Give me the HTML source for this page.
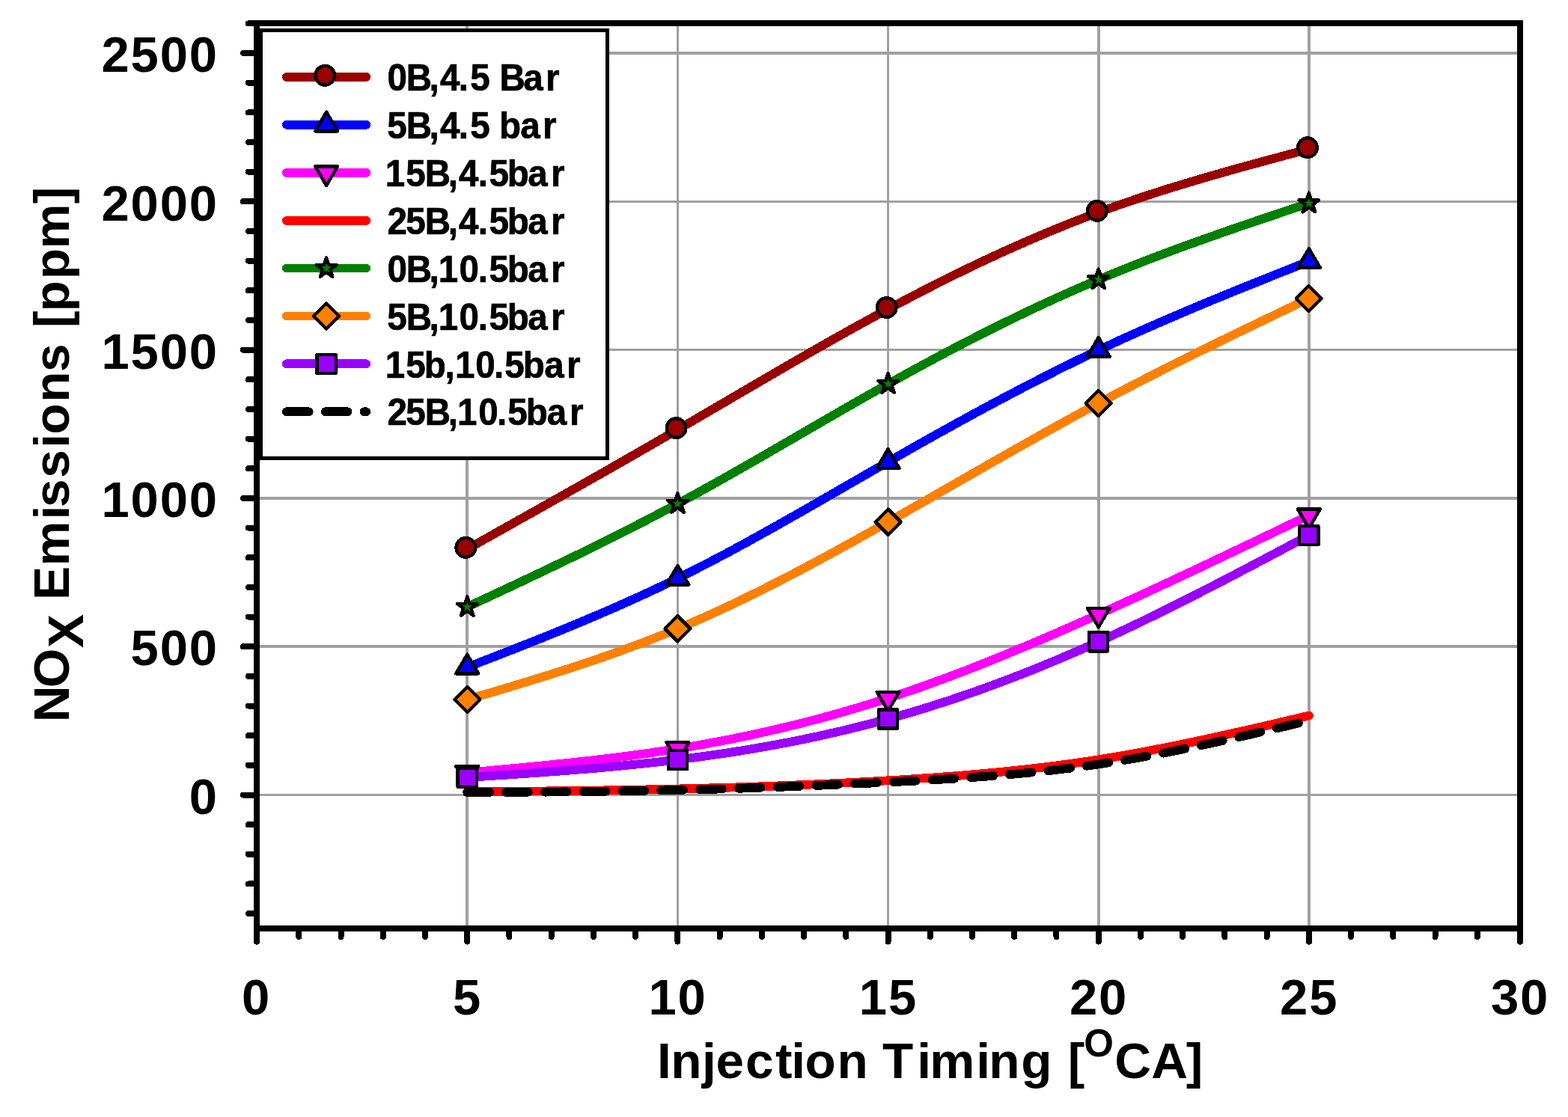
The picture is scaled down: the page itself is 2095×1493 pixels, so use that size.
<!DOCTYPE html>
<html lang="en"><head><meta charset="utf-8"><title>NOx Emissions vs Injection Timing</title>
<style>html,body{margin:0;padding:0;background:#fff}body{width:2095px;height:1493px;overflow:hidden}svg{display:block}</style>
</head><body>
<svg width="2095" height="1493" viewBox="0 0 2095 1493" shape-rendering="crispEdges">
<rect x="0" y="0" width="2095" height="1493" fill="#fff"/>
<path d="M624.25 30.95V1241.40M905.40 30.95V1241.40M1186.55 30.95V1241.40M1467.70 30.95V1241.40M1748.85 30.95V1241.40M343.10 1062.50H2031.00M343.10 864.20H2031.00M343.10 665.90H2031.00M343.10 467.60H2031.00M343.10 269.30H2031.00M343.10 71.00H2031.00" stroke="#a0a0a0" stroke-width="3.6" fill="none"/>
<path d="M624.2 733.9L631.3 730.0L638.3 726.0L645.3 722.1L652.4 718.1L659.4 714.2L666.4 710.2L673.5 706.3L680.5 702.3L687.5 698.4L694.5 694.4L701.6 690.5L708.6 686.5L715.6 682.6L722.7 678.6L729.7 674.7L736.7 670.7L743.7 666.7L750.8 662.8L757.8 658.8L764.8 654.8L771.9 650.8L778.9 646.8L785.9 642.9L792.9 638.9L800.0 634.9L807.0 630.9L814.0 626.9L821.1 622.8L828.1 618.8L835.1 614.8L842.1 610.8L849.2 606.8L856.2 602.7L863.2 598.7L870.3 594.6L877.3 590.6L884.3 586.5L891.3 582.5L898.4 578.4L905.4 574.3L912.4 570.2L919.5 566.1L926.5 562.0L933.5 557.9L940.5 553.8L947.6 549.7L954.6 545.6L961.6 541.5L968.7 537.4L975.7 533.2L982.7 529.1L989.7 525.0L996.8 520.9L1003.8 516.8L1010.8 512.7L1017.9 508.6L1024.9 504.5L1031.9 500.4L1038.9 496.3L1046.0 492.2L1053.0 488.1L1060.0 484.1L1067.1 480.0L1074.1 476.0L1081.1 471.9L1088.1 467.9L1095.2 463.9L1102.2 459.9L1109.2 455.9L1116.3 451.9L1123.3 448.0L1130.3 444.1L1137.3 440.1L1144.4 436.2L1151.4 432.3L1158.4 428.5L1165.5 424.6L1172.5 420.8L1179.5 417.0L1186.5 413.2L1193.6 409.4L1200.6 405.7L1207.6 402.0L1214.7 398.3L1221.7 394.6L1228.7 391.0L1235.8 387.4L1242.8 383.8L1249.8 380.2L1256.8 376.6L1263.9 373.1L1270.9 369.6L1277.9 366.2L1285.0 362.7L1292.0 359.3L1299.0 355.9L1306.0 352.6L1313.1 349.2L1320.1 345.9L1327.1 342.7L1334.2 339.4L1341.2 336.2L1348.2 333.0L1355.2 329.9L1362.3 326.8L1369.3 323.7L1376.3 320.6L1383.4 317.6L1390.4 314.6L1397.4 311.6L1404.4 308.7L1411.5 305.8L1418.5 303.0L1425.5 300.1L1432.6 297.3L1439.6 294.6L1446.6 291.9L1453.6 289.2L1460.7 286.5L1467.7 283.9L1474.9 281.3L1482.1 278.6L1489.3 276.1L1496.5 273.5L1503.7 271.0L1511.0 268.6L1518.2 266.1L1525.4 263.7L1532.6 261.3L1539.8 259.0L1547.0 256.7L1554.2 254.4L1561.4 252.1L1568.6 249.9L1575.8 247.7L1583.0 245.5L1590.3 243.3L1597.5 241.2L1604.7 239.0L1611.9 236.9L1619.1 234.8L1626.3 232.8L1633.5 230.7L1640.7 228.7L1647.9 226.6L1655.1 224.6L1662.3 222.6L1669.6 220.6L1676.8 218.7L1684.0 216.7L1691.2 214.8L1698.4 212.8L1705.6 210.9L1712.8 208.9L1720.0 207.0L1727.2 205.1L1734.4 203.1L1741.6 201.2L1748.8 199.3" fill="none" stroke="#990000" stroke-width="11.8" stroke-linecap="round" stroke-linejoin="round"/>
<circle cx="622.35" cy="731.80" r="12.8" fill="#990000" stroke="#000" stroke-width="4.4" stroke-linejoin="round"/>
<circle cx="903.50" cy="572.20" r="12.8" fill="#990000" stroke="#000" stroke-width="4.4" stroke-linejoin="round"/>
<circle cx="1184.65" cy="411.10" r="12.8" fill="#990000" stroke="#000" stroke-width="4.4" stroke-linejoin="round"/>
<circle cx="1465.80" cy="281.80" r="12.8" fill="#990000" stroke="#000" stroke-width="4.4" stroke-linejoin="round"/>
<circle cx="1746.95" cy="197.20" r="12.8" fill="#990000" stroke="#000" stroke-width="4.4" stroke-linejoin="round"/>
<path d="M624.2 891.8L631.3 889.1L638.3 886.4L645.3 883.6L652.4 880.9L659.4 878.2L666.4 875.4L673.5 872.7L680.5 869.9L687.5 867.2L694.5 864.4L701.6 861.6L708.6 858.9L715.6 856.1L722.7 853.3L729.7 850.4L736.7 847.6L743.7 844.8L750.8 841.9L757.8 839.0L764.8 836.1L771.9 833.2L778.9 830.3L785.9 827.3L792.9 824.3L800.0 821.3L807.0 818.3L814.0 815.3L821.1 812.2L828.1 809.1L835.1 806.0L842.1 802.8L849.2 799.6L856.2 796.4L863.2 793.2L870.3 789.9L877.3 786.6L884.3 783.3L891.3 779.9L898.4 776.5L905.4 773.0L912.4 769.6L919.5 766.1L926.5 762.5L933.5 758.9L940.5 755.3L947.6 751.7L954.6 748.0L961.6 744.3L968.7 740.6L975.7 736.8L982.7 733.0L989.7 729.2L996.8 725.4L1003.8 721.5L1010.8 717.6L1017.9 713.7L1024.9 709.8L1031.9 705.9L1038.9 702.0L1046.0 698.0L1053.0 694.0L1060.0 690.0L1067.1 686.0L1074.1 682.0L1081.1 678.0L1088.1 674.0L1095.2 669.9L1102.2 665.9L1109.2 661.8L1116.3 657.8L1123.3 653.7L1130.3 649.7L1137.3 645.6L1144.4 641.6L1151.4 637.5L1158.4 633.5L1165.5 629.4L1172.5 625.4L1179.5 621.3L1186.5 617.3L1193.6 613.3L1200.6 609.3L1207.6 605.3L1214.7 601.3L1221.7 597.3L1228.7 593.3L1235.8 589.4L1242.8 585.4L1249.8 581.5L1256.8 577.6L1263.9 573.7L1270.9 569.8L1277.9 565.9L1285.0 562.0L1292.0 558.2L1299.0 554.3L1306.0 550.5L1313.1 546.7L1320.1 542.9L1327.1 539.2L1334.2 535.4L1341.2 531.7L1348.2 528.0L1355.2 524.3L1362.3 520.6L1369.3 516.9L1376.3 513.3L1383.4 509.7L1390.4 506.1L1397.4 502.5L1404.4 499.0L1411.5 495.4L1418.5 491.9L1425.5 488.4L1432.6 485.0L1439.6 481.5L1446.6 478.1L1453.6 474.7L1460.7 471.4L1467.7 468.1L1474.9 464.7L1482.1 461.3L1489.3 458.0L1496.5 454.6L1503.7 451.4L1511.0 448.1L1518.2 444.8L1525.4 441.6L1532.6 438.4L1539.8 435.3L1547.0 432.1L1554.2 429.0L1561.4 425.9L1568.6 422.8L1575.8 419.7L1583.0 416.6L1590.3 413.6L1597.5 410.5L1604.7 407.5L1611.9 404.5L1619.1 401.5L1626.3 398.6L1633.5 395.6L1640.7 392.7L1647.9 389.7L1655.1 386.8L1662.3 383.9L1669.6 381.0L1676.8 378.1L1684.0 375.2L1691.2 372.3L1698.4 369.4L1705.6 366.5L1712.8 363.6L1720.0 360.8L1727.2 357.9L1734.4 355.0L1741.6 352.2L1748.8 349.3" fill="none" stroke="#0000ff" stroke-width="11.8" stroke-linecap="round" stroke-linejoin="round"/>
<path d="M624.25 874.70L639.25 900.30L609.25 900.30Z" fill="#0000ff" stroke="#000" stroke-width="4.4" stroke-linejoin="round"/>
<path d="M905.40 755.95L920.40 781.55L890.40 781.55Z" fill="#0000ff" stroke="#000" stroke-width="4.4" stroke-linejoin="round"/>
<path d="M1186.55 600.20L1201.55 625.80L1171.55 625.80Z" fill="#0000ff" stroke="#000" stroke-width="4.4" stroke-linejoin="round"/>
<path d="M1467.70 450.95L1482.70 476.55L1452.70 476.55Z" fill="#0000ff" stroke="#000" stroke-width="4.4" stroke-linejoin="round"/>
<path d="M1748.85 332.20L1763.85 357.80L1733.85 357.80Z" fill="#0000ff" stroke="#000" stroke-width="4.4" stroke-linejoin="round"/>
<path d="M624.2 1032.7L631.3 1032.1L638.3 1031.4L645.3 1030.8L652.4 1030.2L659.4 1029.5L666.4 1028.9L673.5 1028.2L680.5 1027.6L687.5 1026.9L694.5 1026.3L701.6 1025.6L708.6 1024.9L715.6 1024.2L722.7 1023.6L729.7 1022.9L736.7 1022.1L743.7 1021.4L750.8 1020.7L757.8 1020.0L764.8 1019.2L771.9 1018.4L778.9 1017.7L785.9 1016.9L792.9 1016.1L800.0 1015.2L807.0 1014.4L814.0 1013.6L821.1 1012.7L828.1 1011.8L835.1 1010.9L842.1 1010.0L849.2 1009.0L856.2 1008.1L863.2 1007.1L870.3 1006.1L877.3 1005.0L884.3 1004.0L891.3 1002.9L898.4 1001.8L905.4 1000.7L912.4 999.6L919.5 998.4L926.5 997.2L933.5 996.0L940.5 994.7L947.6 993.4L954.6 992.1L961.6 990.8L968.7 989.4L975.7 988.1L982.7 986.7L989.7 985.2L996.8 983.8L1003.8 982.3L1010.8 980.8L1017.9 979.2L1024.9 977.6L1031.9 976.0L1038.9 974.4L1046.0 972.7L1053.0 971.0L1060.0 969.3L1067.1 967.6L1074.1 965.8L1081.1 964.0L1088.1 962.2L1095.2 960.3L1102.2 958.4L1109.2 956.5L1116.3 954.5L1123.3 952.5L1130.3 950.5L1137.3 948.4L1144.4 946.4L1151.4 944.3L1158.4 942.1L1165.5 939.9L1172.5 937.7L1179.5 935.5L1186.5 933.2L1193.6 930.9L1200.6 928.6L1207.6 926.2L1214.7 923.8L1221.7 921.3L1228.7 918.9L1235.8 916.4L1242.8 913.9L1249.8 911.3L1256.8 908.7L1263.9 906.1L1270.9 903.5L1277.9 900.8L1285.0 898.2L1292.0 895.5L1299.0 892.7L1306.0 890.0L1313.1 887.2L1320.1 884.4L1327.1 881.6L1334.2 878.7L1341.2 875.8L1348.2 872.9L1355.2 870.0L1362.3 867.1L1369.3 864.2L1376.3 861.2L1383.4 858.2L1390.4 855.2L1397.4 852.2L1404.4 849.2L1411.5 846.1L1418.5 843.0L1425.5 840.0L1432.6 836.9L1439.6 833.8L1446.6 830.6L1453.6 827.5L1460.7 824.4L1467.7 821.2L1474.9 818.0L1482.1 814.7L1489.3 811.4L1496.5 808.1L1503.7 804.8L1511.0 801.5L1518.2 798.2L1525.4 794.9L1532.6 791.6L1539.8 788.2L1547.0 784.9L1554.2 781.5L1561.4 778.2L1568.6 774.8L1575.8 771.4L1583.0 768.1L1590.3 764.7L1597.5 761.3L1604.7 757.9L1611.9 754.4L1619.1 751.0L1626.3 747.6L1633.5 744.2L1640.7 740.8L1647.9 737.3L1655.1 733.9L1662.3 730.4L1669.6 727.0L1676.8 723.6L1684.0 720.1L1691.2 716.6L1698.4 713.2L1705.6 709.7L1712.8 706.3L1720.0 702.8L1727.2 699.3L1734.4 695.9L1741.6 692.4L1748.8 689.0" fill="none" stroke="#ff00ff" stroke-width="11.8" stroke-linecap="round" stroke-linejoin="round"/>
<path d="M609.25 1024.20L639.25 1024.20L624.25 1049.80Z" fill="#ff00ff" stroke="#000" stroke-width="4.4" stroke-linejoin="round"/>
<path d="M890.40 992.20L920.40 992.20L905.40 1017.80Z" fill="#ff00ff" stroke="#000" stroke-width="4.4" stroke-linejoin="round"/>
<path d="M1171.55 924.70L1201.55 924.70L1186.55 950.30Z" fill="#ff00ff" stroke="#000" stroke-width="4.4" stroke-linejoin="round"/>
<path d="M1452.70 812.70L1482.70 812.70L1467.70 838.30Z" fill="#ff00ff" stroke="#000" stroke-width="4.4" stroke-linejoin="round"/>
<path d="M1733.85 680.45L1763.85 680.45L1748.85 706.05Z" fill="#ff00ff" stroke="#000" stroke-width="4.4" stroke-linejoin="round"/>
<path d="M624.2 1058.5L631.3 1058.4L638.3 1058.4L645.3 1058.3L652.4 1058.2L659.4 1058.2L666.4 1058.1L673.5 1058.0L680.5 1057.9L687.5 1057.9L694.5 1057.8L701.6 1057.7L708.6 1057.6L715.6 1057.6L722.7 1057.5L729.7 1057.4L736.7 1057.3L743.7 1057.2L750.8 1057.2L757.8 1057.1L764.8 1057.0L771.9 1056.9L778.9 1056.8L785.9 1056.7L792.9 1056.6L800.0 1056.5L807.0 1056.4L814.0 1056.3L821.1 1056.2L828.1 1056.0L835.1 1055.9L842.1 1055.8L849.2 1055.7L856.2 1055.5L863.2 1055.4L870.3 1055.3L877.3 1055.1L884.3 1055.0L891.3 1054.8L898.4 1054.7L905.4 1054.5L912.4 1054.3L919.5 1054.2L926.5 1054.0L933.5 1053.8L940.5 1053.6L947.6 1053.4L954.6 1053.2L961.6 1053.0L968.7 1052.8L975.7 1052.6L982.7 1052.4L989.7 1052.2L996.8 1051.9L1003.8 1051.7L1010.8 1051.5L1017.9 1051.2L1024.9 1051.0L1031.9 1050.7L1038.9 1050.4L1046.0 1050.2L1053.0 1049.9L1060.0 1049.6L1067.1 1049.3L1074.1 1049.0L1081.1 1048.7L1088.1 1048.4L1095.2 1048.1L1102.2 1047.8L1109.2 1047.4L1116.3 1047.1L1123.3 1046.7L1130.3 1046.4L1137.3 1046.0L1144.4 1045.7L1151.4 1045.3L1158.4 1044.9L1165.5 1044.5L1172.5 1044.1L1179.5 1043.7L1186.5 1043.3L1193.6 1042.9L1200.6 1042.5L1207.6 1042.0L1214.7 1041.6L1221.7 1041.1L1228.7 1040.6L1235.8 1040.2L1242.8 1039.7L1249.8 1039.2L1256.8 1038.7L1263.9 1038.1L1270.9 1037.6L1277.9 1037.0L1285.0 1036.5L1292.0 1035.9L1299.0 1035.3L1306.0 1034.7L1313.1 1034.1L1320.1 1033.4L1327.1 1032.8L1334.2 1032.1L1341.2 1031.4L1348.2 1030.7L1355.2 1029.9L1362.3 1029.2L1369.3 1028.4L1376.3 1027.6L1383.4 1026.8L1390.4 1026.0L1397.4 1025.1L1404.4 1024.3L1411.5 1023.4L1418.5 1022.4L1425.5 1021.5L1432.6 1020.5L1439.6 1019.5L1446.6 1018.5L1453.6 1017.5L1460.7 1016.4L1467.7 1015.3L1474.9 1014.1L1482.1 1013.0L1489.3 1011.8L1496.5 1010.5L1503.7 1009.3L1511.0 1008.0L1518.2 1006.7L1525.4 1005.4L1532.6 1004.0L1539.8 1002.6L1547.0 1001.2L1554.2 999.8L1561.4 998.4L1568.6 996.9L1575.8 995.5L1583.0 994.0L1590.3 992.5L1597.5 990.9L1604.7 989.4L1611.9 987.9L1619.1 986.3L1626.3 984.7L1633.5 983.1L1640.7 981.5L1647.9 979.9L1655.1 978.3L1662.3 976.7L1669.6 975.0L1676.8 973.4L1684.0 971.7L1691.2 970.0L1698.4 968.4L1705.6 966.7L1712.8 965.0L1720.0 963.3L1727.2 961.7L1734.4 960.0L1741.6 958.3L1748.8 956.6" fill="none" stroke="#ff0000" stroke-width="11.8" stroke-linecap="round" stroke-linejoin="round"/>
<path d="M624.2 811.3L631.3 808.0L638.3 804.7L645.3 801.4L652.4 798.2L659.4 794.9L666.4 791.6L673.5 788.3L680.5 785.0L687.5 781.7L694.5 778.4L701.6 775.0L708.6 771.7L715.6 768.4L722.7 765.1L729.7 761.7L736.7 758.3L743.7 755.0L750.8 751.6L757.8 748.2L764.8 744.8L771.9 741.4L778.9 738.0L785.9 734.5L792.9 731.1L800.0 727.6L807.0 724.1L814.0 720.6L821.1 717.1L828.1 713.5L835.1 710.0L842.1 706.4L849.2 702.8L856.2 699.2L863.2 695.6L870.3 691.9L877.3 688.2L884.3 684.5L891.3 680.8L898.4 677.1L905.4 673.3L912.4 669.5L919.5 665.7L926.5 661.8L933.5 658.0L940.5 654.1L947.6 650.2L954.6 646.3L961.6 642.3L968.7 638.4L975.7 634.4L982.7 630.4L989.7 626.4L996.8 622.4L1003.8 618.4L1010.8 614.3L1017.9 610.3L1024.9 606.2L1031.9 602.2L1038.9 598.1L1046.0 594.0L1053.0 590.0L1060.0 585.9L1067.1 581.8L1074.1 577.7L1081.1 573.6L1088.1 569.6L1095.2 565.5L1102.2 561.4L1109.2 557.4L1116.3 553.3L1123.3 549.3L1130.3 545.2L1137.3 541.2L1144.4 537.2L1151.4 533.1L1158.4 529.1L1165.5 525.2L1172.5 521.2L1179.5 517.2L1186.5 513.3L1193.6 509.4L1200.6 505.5L1207.6 501.6L1214.7 497.7L1221.7 493.9L1228.7 490.1L1235.8 486.2L1242.8 482.5L1249.8 478.7L1256.8 474.9L1263.9 471.2L1270.9 467.5L1277.9 463.8L1285.0 460.2L1292.0 456.5L1299.0 452.9L1306.0 449.3L1313.1 445.8L1320.1 442.2L1327.1 438.7L1334.2 435.2L1341.2 431.7L1348.2 428.3L1355.2 424.9L1362.3 421.5L1369.3 418.1L1376.3 414.7L1383.4 411.4L1390.4 408.1L1397.4 404.9L1404.4 401.6L1411.5 398.4L1418.5 395.2L1425.5 392.1L1432.6 389.0L1439.6 385.9L1446.6 382.8L1453.6 379.8L1460.7 376.8L1467.7 373.8L1474.9 370.8L1482.1 367.8L1489.3 364.8L1496.5 361.9L1503.7 359.0L1511.0 356.1L1518.2 353.3L1525.4 350.5L1532.6 347.7L1539.8 344.9L1547.0 342.2L1554.2 339.5L1561.4 336.8L1568.6 334.1L1575.8 331.4L1583.0 328.8L1590.3 326.2L1597.5 323.6L1604.7 321.0L1611.9 318.5L1619.1 315.9L1626.3 313.4L1633.5 310.9L1640.7 308.3L1647.9 305.9L1655.1 303.4L1662.3 300.9L1669.6 298.4L1676.8 296.0L1684.0 293.5L1691.2 291.1L1698.4 288.7L1705.6 286.3L1712.8 283.8L1720.0 281.4L1727.2 279.0L1734.4 276.6L1741.6 274.2L1748.8 271.8" fill="none" stroke="#008000" stroke-width="11.8" stroke-linecap="round" stroke-linejoin="round"/>
<path d="M624.25 797.20L627.42 806.94L637.66 806.94L629.37 812.96L632.54 822.71L624.25 816.69L615.96 822.71L619.13 812.96L610.84 806.94L621.08 806.94Z" fill="#008000" stroke="#000" stroke-width="4.4" stroke-linejoin="round"/>
<path d="M905.40 659.20L908.57 668.94L918.81 668.94L910.52 674.96L913.69 684.71L905.40 678.69L897.11 684.71L900.28 674.96L891.99 668.94L902.23 668.94Z" fill="#008000" stroke="#000" stroke-width="4.4" stroke-linejoin="round"/>
<path d="M1186.55 499.20L1189.72 508.94L1199.96 508.94L1191.67 514.96L1194.84 524.71L1186.55 518.69L1178.26 524.71L1181.43 514.96L1173.14 508.94L1183.38 508.94Z" fill="#008000" stroke="#000" stroke-width="4.4" stroke-linejoin="round"/>
<path d="M1467.70 359.70L1470.87 369.44L1481.11 369.44L1472.82 375.46L1475.99 385.21L1467.70 379.19L1459.41 385.21L1462.58 375.46L1454.29 369.44L1464.53 369.44Z" fill="#008000" stroke="#000" stroke-width="4.4" stroke-linejoin="round"/>
<path d="M1748.85 257.70L1752.02 267.44L1762.26 267.44L1753.97 273.46L1757.14 283.21L1748.85 277.19L1740.56 283.21L1743.73 273.46L1735.44 267.44L1745.68 267.44Z" fill="#008000" stroke="#000" stroke-width="4.4" stroke-linejoin="round"/>
<path d="M624.2 935.1L631.3 933.0L638.3 930.9L645.3 928.8L652.4 926.8L659.4 924.7L666.4 922.6L673.5 920.5L680.5 918.4L687.5 916.2L694.5 914.1L701.6 912.0L708.6 909.8L715.6 907.6L722.7 905.5L729.7 903.3L736.7 901.1L743.7 898.8L750.8 896.6L757.8 894.3L764.8 892.0L771.9 889.7L778.9 887.4L785.9 885.0L792.9 882.7L800.0 880.3L807.0 877.8L814.0 875.4L821.1 872.9L828.1 870.4L835.1 867.8L842.1 865.2L849.2 862.6L856.2 860.0L863.2 857.3L870.3 854.6L877.3 851.8L884.3 849.0L891.3 846.2L898.4 843.3L905.4 840.4L912.4 837.4L919.5 834.4L926.5 831.4L933.5 828.3L940.5 825.2L947.6 822.0L954.6 818.8L961.6 815.6L968.7 812.3L975.7 809.0L982.7 805.7L989.7 802.3L996.8 798.9L1003.8 795.4L1010.8 792.0L1017.9 788.5L1024.9 784.9L1031.9 781.4L1038.9 777.8L1046.0 774.2L1053.0 770.5L1060.0 766.9L1067.1 763.2L1074.1 759.5L1081.1 755.7L1088.1 752.0L1095.2 748.2L1102.2 744.4L1109.2 740.6L1116.3 736.8L1123.3 732.9L1130.3 729.0L1137.3 725.2L1144.4 721.3L1151.4 717.3L1158.4 713.4L1165.5 709.5L1172.5 705.5L1179.5 701.6L1186.5 697.6L1193.6 693.6L1200.6 689.6L1207.6 685.6L1214.7 681.6L1221.7 677.6L1228.7 673.6L1235.8 669.6L1242.8 665.6L1249.8 661.5L1256.8 657.5L1263.9 653.5L1270.9 649.4L1277.9 645.4L1285.0 641.4L1292.0 637.3L1299.0 633.3L1306.0 629.3L1313.1 625.3L1320.1 621.2L1327.1 617.2L1334.2 613.2L1341.2 609.2L1348.2 605.2L1355.2 601.2L1362.3 597.3L1369.3 593.3L1376.3 589.3L1383.4 585.4L1390.4 581.4L1397.4 577.5L1404.4 573.6L1411.5 569.7L1418.5 565.8L1425.5 561.9L1432.6 558.0L1439.6 554.2L1446.6 550.4L1453.6 546.6L1460.7 542.8L1467.7 539.0L1474.9 535.2L1482.1 531.3L1489.3 527.5L1496.5 523.7L1503.7 520.0L1511.0 516.2L1518.2 512.5L1525.4 508.7L1532.6 505.0L1539.8 501.4L1547.0 497.7L1554.2 494.0L1561.4 490.4L1568.6 486.8L1575.8 483.1L1583.0 479.5L1590.3 476.0L1597.5 472.4L1604.7 468.8L1611.9 465.3L1619.1 461.7L1626.3 458.2L1633.5 454.6L1640.7 451.1L1647.9 447.6L1655.1 444.1L1662.3 440.6L1669.6 437.1L1676.8 433.6L1684.0 430.2L1691.2 426.7L1698.4 423.2L1705.6 419.7L1712.8 416.3L1720.0 412.8L1727.2 409.4L1734.4 405.9L1741.6 402.5L1748.8 399.0" fill="none" stroke="#ff8000" stroke-width="11.8" stroke-linecap="round" stroke-linejoin="round"/>
<path d="M624.25 918.10L641.25 935.10L624.25 952.10L607.25 935.10Z" fill="#ff8000" stroke="#000" stroke-width="4.4" stroke-linejoin="round"/>
<path d="M905.40 823.40L922.40 840.40L905.40 857.40L888.40 840.40Z" fill="#ff8000" stroke="#000" stroke-width="4.4" stroke-linejoin="round"/>
<path d="M1186.55 680.60L1203.55 697.60L1186.55 714.60L1169.55 697.60Z" fill="#ff8000" stroke="#000" stroke-width="4.4" stroke-linejoin="round"/>
<path d="M1467.70 522.00L1484.70 539.00L1467.70 556.00L1450.70 539.00Z" fill="#ff8000" stroke="#000" stroke-width="4.4" stroke-linejoin="round"/>
<path d="M1748.85 382.00L1765.85 399.00L1748.85 416.00L1731.85 399.00Z" fill="#ff8000" stroke="#000" stroke-width="4.4" stroke-linejoin="round"/>
<path d="M624.2 1039.1L631.3 1038.6L638.3 1038.2L645.3 1037.7L652.4 1037.3L659.4 1036.8L666.4 1036.3L673.5 1035.9L680.5 1035.4L687.5 1034.9L694.5 1034.4L701.6 1034.0L708.6 1033.5L715.6 1033.0L722.7 1032.5L729.7 1032.0L736.7 1031.4L743.7 1030.9L750.8 1030.4L757.8 1029.8L764.8 1029.3L771.9 1028.7L778.9 1028.1L785.9 1027.6L792.9 1027.0L800.0 1026.4L807.0 1025.7L814.0 1025.1L821.1 1024.4L828.1 1023.8L835.1 1023.1L842.1 1022.4L849.2 1021.7L856.2 1021.0L863.2 1020.2L870.3 1019.5L877.3 1018.7L884.3 1017.9L891.3 1017.1L898.4 1016.3L905.4 1015.4L912.4 1014.5L919.5 1013.6L926.5 1012.7L933.5 1011.8L940.5 1010.8L947.6 1009.8L954.6 1008.8L961.6 1007.8L968.7 1006.8L975.7 1005.7L982.7 1004.6L989.7 1003.5L996.8 1002.3L1003.8 1001.2L1010.8 1000.0L1017.9 998.7L1024.9 997.5L1031.9 996.2L1038.9 994.9L1046.0 993.6L1053.0 992.3L1060.0 990.9L1067.1 989.5L1074.1 988.0L1081.1 986.6L1088.1 985.1L1095.2 983.6L1102.2 982.0L1109.2 980.4L1116.3 978.8L1123.3 977.2L1130.3 975.5L1137.3 973.8L1144.4 972.1L1151.4 970.3L1158.4 968.5L1165.5 966.7L1172.5 964.8L1179.5 962.9L1186.5 961.0L1193.6 959.0L1200.6 957.0L1207.6 955.0L1214.7 953.0L1221.7 950.9L1228.7 948.7L1235.8 946.6L1242.8 944.4L1249.8 942.1L1256.8 939.9L1263.9 937.6L1270.9 935.3L1277.9 932.9L1285.0 930.5L1292.0 928.1L1299.0 925.7L1306.0 923.2L1313.1 920.7L1320.1 918.1L1327.1 915.5L1334.2 912.9L1341.2 910.3L1348.2 907.6L1355.2 904.9L1362.3 902.2L1369.3 899.5L1376.3 896.7L1383.4 893.8L1390.4 891.0L1397.4 888.1L1404.4 885.2L1411.5 882.3L1418.5 879.3L1425.5 876.3L1432.6 873.3L1439.6 870.2L1446.6 867.2L1453.6 864.1L1460.7 860.9L1467.7 857.7L1474.9 854.5L1482.1 851.2L1489.3 847.8L1496.5 844.5L1503.7 841.1L1511.0 837.7L1518.2 834.2L1525.4 830.8L1532.6 827.3L1539.8 823.8L1547.0 820.3L1554.2 816.7L1561.4 813.1L1568.6 809.5L1575.8 805.9L1583.0 802.3L1590.3 798.7L1597.5 795.0L1604.7 791.3L1611.9 787.6L1619.1 783.9L1626.3 780.2L1633.5 776.5L1640.7 772.7L1647.9 769.0L1655.1 765.2L1662.3 761.4L1669.6 757.6L1676.8 753.8L1684.0 750.0L1691.2 746.2L1698.4 742.4L1705.6 738.6L1712.8 734.8L1720.0 730.9L1727.2 727.1L1734.4 723.3L1741.6 719.4L1748.8 715.6" fill="none" stroke="#9900ff" stroke-width="11.8" stroke-linecap="round" stroke-linejoin="round"/>
<rect x="611.65" y="1026.50" width="25.20" height="25.20" fill="#9900ff" stroke="#000" stroke-width="4.4" stroke-linejoin="round"/>
<rect x="892.80" y="1002.80" width="25.20" height="25.20" fill="#9900ff" stroke="#000" stroke-width="4.4" stroke-linejoin="round"/>
<rect x="1173.95" y="948.40" width="25.20" height="25.20" fill="#9900ff" stroke="#000" stroke-width="4.4" stroke-linejoin="round"/>
<rect x="1455.10" y="845.15" width="25.20" height="25.20" fill="#9900ff" stroke="#000" stroke-width="4.4" stroke-linejoin="round"/>
<rect x="1736.25" y="703.00" width="25.20" height="25.20" fill="#9900ff" stroke="#000" stroke-width="4.4" stroke-linejoin="round"/>
<path d="M624.2 1059.3L631.3 1059.3L638.3 1059.2L645.3 1059.2L652.4 1059.1L659.4 1059.1L666.4 1059.0L673.5 1059.0L680.5 1058.9L687.5 1058.9L694.5 1058.8L701.6 1058.8L708.6 1058.7L715.6 1058.7L722.7 1058.6L729.7 1058.6L736.7 1058.5L743.7 1058.4L750.8 1058.4L757.8 1058.3L764.8 1058.2L771.9 1058.2L778.9 1058.1L785.9 1058.0L792.9 1057.9L800.0 1057.8L807.0 1057.7L814.0 1057.7L821.1 1057.6L828.1 1057.4L835.1 1057.3L842.1 1057.2L849.2 1057.1L856.2 1057.0L863.2 1056.9L870.3 1056.7L877.3 1056.6L884.3 1056.5L891.3 1056.3L898.4 1056.2L905.4 1056.0L912.4 1055.8L919.5 1055.7L926.5 1055.5L933.5 1055.3L940.5 1055.1L947.6 1054.9L954.6 1054.7L961.6 1054.5L968.7 1054.3L975.7 1054.1L982.7 1053.9L989.7 1053.7L996.8 1053.4L1003.8 1053.2L1010.8 1053.0L1017.9 1052.7L1024.9 1052.5L1031.9 1052.2L1038.9 1051.9L1046.0 1051.7L1053.0 1051.4L1060.0 1051.1L1067.1 1050.9L1074.1 1050.6L1081.1 1050.3L1088.1 1050.0L1095.2 1049.7L1102.2 1049.4L1109.2 1049.1L1116.3 1048.8L1123.3 1048.5L1130.3 1048.2L1137.3 1047.8L1144.4 1047.5L1151.4 1047.2L1158.4 1046.9L1165.5 1046.5L1172.5 1046.2L1179.5 1045.8L1186.5 1045.5L1193.6 1045.2L1200.6 1044.8L1207.6 1044.4L1214.7 1044.1L1221.7 1043.7L1228.7 1043.3L1235.8 1042.9L1242.8 1042.6L1249.8 1042.2L1256.8 1041.7L1263.9 1041.3L1270.9 1040.9L1277.9 1040.5L1285.0 1040.0L1292.0 1039.5L1299.0 1039.0L1306.0 1038.5L1313.1 1038.0L1320.1 1037.5L1327.1 1037.0L1334.2 1036.4L1341.2 1035.8L1348.2 1035.2L1355.2 1034.6L1362.3 1034.0L1369.3 1033.3L1376.3 1032.6L1383.4 1031.9L1390.4 1031.2L1397.4 1030.4L1404.4 1029.7L1411.5 1028.9L1418.5 1028.0L1425.5 1027.2L1432.6 1026.3L1439.6 1025.4L1446.6 1024.5L1453.6 1023.5L1460.7 1022.5L1467.7 1021.5L1474.9 1020.4L1482.1 1019.3L1489.3 1018.2L1496.5 1017.0L1503.7 1015.8L1511.0 1014.5L1518.2 1013.3L1525.4 1012.0L1532.6 1010.7L1539.8 1009.3L1547.0 1008.0L1554.2 1006.6L1561.4 1005.2L1568.6 1003.8L1575.8 1002.3L1583.0 1000.8L1590.3 999.3L1597.5 997.8L1604.7 996.3L1611.9 994.7L1619.1 993.2L1626.3 991.6L1633.5 990.0L1640.7 988.4L1647.9 986.8L1655.1 985.2L1662.3 983.5L1669.6 981.9L1676.8 980.2L1684.0 978.5L1691.2 976.9L1698.4 975.2L1705.6 973.5L1712.8 971.8L1720.0 970.1L1727.2 968.4L1734.4 966.7L1741.6 965.0L1748.8 963.3" fill="none" stroke="#000000" stroke-width="11.8" stroke-linecap="round" stroke-linejoin="round" stroke-dasharray="29.8 22"/>
<rect x="343.10" y="30.95" width="1687.90" height="1210.45" fill="none" stroke="#000" stroke-width="8.0"/>
<path d="M343.10 1241.40V1258.60M399.33 1241.40V1252.00M455.56 1241.40V1252.00M511.79 1241.40V1252.00M568.02 1241.40V1252.00M624.25 1241.40V1258.60M680.48 1241.40V1252.00M736.71 1241.40V1252.00M792.94 1241.40V1252.00M849.17 1241.40V1252.00M905.40 1241.40V1258.60M961.63 1241.40V1252.00M1017.86 1241.40V1252.00M1074.09 1241.40V1252.00M1130.32 1241.40V1252.00M1186.55 1241.40V1258.60M1242.78 1241.40V1252.00M1299.01 1241.40V1252.00M1355.24 1241.40V1252.00M1411.47 1241.40V1252.00M1467.70 1241.40V1258.60M1523.93 1241.40V1252.00M1580.16 1241.40V1252.00M1636.39 1241.40V1252.00M1692.62 1241.40V1252.00M1748.85 1241.40V1258.60M1805.08 1241.40V1252.00M1861.31 1241.40V1252.00M1917.54 1241.40V1252.00M1973.77 1241.40V1252.00M2031.00 1241.40V1258.60M343.10 1221.14H331.90M343.10 1181.48H331.90M343.10 1141.82H331.90M343.10 1102.16H331.90M343.10 1062.50H324.90M343.10 1022.84H331.90M343.10 983.18H331.90M343.10 943.52H331.90M343.10 903.86H331.90M343.10 864.20H324.90M343.10 824.54H331.90M343.10 784.88H331.90M343.10 745.22H331.90M343.10 705.56H331.90M343.10 665.90H324.90M343.10 626.24H331.90M343.10 586.58H331.90M343.10 546.92H331.90M343.10 507.26H331.90M343.10 467.60H324.90M343.10 427.94H331.90M343.10 388.28H331.90M343.10 348.62H331.90M343.10 308.96H331.90M343.10 269.30H324.90M343.10 229.64H331.90M343.10 189.98H331.90M343.10 150.32H331.90M343.10 110.66H331.90M343.10 71.00H324.90M343.10 31.34H331.90" stroke="#000" stroke-width="8.0" stroke-linecap="round" fill="none"/>
<g font-family="'Liberation Sans', sans-serif" font-weight="bold" fill="#000">
<text x="252.79" y="1087.70" font-size="67.00">0</text>
<text x="174.59 213.69 252.79" y="889.40" font-size="67.00">500</text>
<text x="135.49 174.59 213.69 252.79" y="691.10" font-size="67.00">1000</text>
<text x="135.49 174.59 213.69 252.79" y="492.80" font-size="67.00">1500</text>
<text x="135.49 174.59 213.69 252.79" y="294.50" font-size="67.00">2000</text>
<text x="135.49 174.59 213.69 252.79" y="96.20" font-size="67.00">2500</text>
<text x="323.02" y="1355.70" font-size="67.00">0</text>
<text x="605.02" y="1355.70" font-size="67.00">5</text>
<text x="866.48 905.58" y="1355.70" font-size="67.00">10</text>
<text x="1147.84 1186.94" y="1355.70" font-size="67.00">15</text>
<text x="1428.93 1468.03" y="1355.70" font-size="67.00">20</text>
<text x="1710.09 1749.19" y="1355.70" font-size="67.00">25</text>
<text x="1991.92 2031.02" y="1355.70" font-size="67.00">30</text>
<text x="878.02 896.30 938.02 956.57 995.90 1036.11 1057.21 1075.43 1118.40 1159.63 1179.02 1225.16 1242.26 1304.16 1321.20 1364.26 1405.49 1426.78" y="1441.00" font-size="67.50">Injection Timing [</text>
<text x="1448.19" y="1412.20" font-size="51.00">O</text>
<text x="1489.17 1538.18 1584.79" y="1441.00" font-size="67.50">CA]</text>
<g transform="translate(92.1 959.9) rotate(-90)">
<text x="-5.41 40.68" y="0.00" font-size="67.50">NO</text>
<text x="93.84" y="19.10" font-size="67.50">X</text>
<text x="157.95 203.31 265.31 282.03 321.23 361.11 379.33 422.15 463.03 500.57 521.83 543.49 586.64 627.36 687.69" y="0.00" font-size="67.50">Emissions [ppm]</text>
</g>
<rect x="348.25" y="40" width="463.5" height="572.5" fill="#fff" stroke="#000" stroke-width="5"/>
<path d="M343.10 30V700" stroke="#000" stroke-width="8" fill="none"/>
<g stroke="#000" stroke-width="0.7" stroke-linejoin="round">
<text transform="translate(0 121.05) scale(1 1.040)" x="517.38 542.64 573.58 588.01 612.87 628.22 654.64 667.59 699.29 728.95" y="0" font-size="47.50">0B,4.5 Bar</text>
<text transform="translate(0 184.90) scale(1 1.040)" x="517.27 542.64 573.58 588.01 612.87 628.22 654.64 667.00 695.29 724.95" y="0" font-size="47.50">5B,4.5 bar</text>
<text transform="translate(0 249.05) scale(1 1.040)" x="514.86 542.37 567.64 598.63 613.06 638.87 653.42 677.85 705.24 735.95" y="0" font-size="47.50">15B,4.5bar</text>
<text transform="translate(0 312.90) scale(1 1.040)" x="517.47 542.37 567.64 598.63 613.06 638.87 653.42 677.85 705.24 735.95" y="0" font-size="47.50">25B,4.5bar</text>
<text transform="translate(0 377.05) scale(1 1.040)" x="517.38 542.64 573.58 585.86 613.43 638.87 653.42 677.85 705.24 735.95" y="0" font-size="47.50">0B,10.5bar</text>
<text transform="translate(0 440.90) scale(1 1.040)" x="517.27 542.64 573.58 585.86 613.43 638.87 653.42 677.85 705.24 735.95" y="0" font-size="47.50">5B,10.5bar</text>
<text transform="translate(0 505.05) scale(1 1.040)" x="514.86 542.37 566.80 594.58 607.96 635.33 659.97 674.27 698.85 727.19 757.00" y="0" font-size="47.50">15b,10.5bar</text>
<text transform="translate(0 567.90) scale(1 1.040)" x="517.47 542.37 567.64 598.63 610.91 639.33 663.97 678.27 702.85 730.84 761.05" y="0" font-size="47.50">25B,10.5bar</text>
</g>
</g>
<path d="M382.9 102.90H489.2" stroke="#990000" stroke-width="11.8" stroke-linecap="round" fill="none"/>
<circle cx="434.20" cy="100.80" r="12.8" fill="#990000" stroke="#000" stroke-width="4.4" stroke-linejoin="round"/>
<path d="M382.9 166.80H489.2" stroke="#0000ff" stroke-width="11.8" stroke-linecap="round" fill="none"/>
<path d="M436.10 149.70L451.10 175.30L421.10 175.30Z" fill="#0000ff" stroke="#000" stroke-width="4.4" stroke-linejoin="round"/>
<path d="M382.9 230.90H489.2" stroke="#ff00ff" stroke-width="11.8" stroke-linecap="round" fill="none"/>
<path d="M421.10 222.40L451.10 222.40L436.10 248.00Z" fill="#ff00ff" stroke="#000" stroke-width="4.4" stroke-linejoin="round"/>
<path d="M382.9 294.90H489.2" stroke="#ff0000" stroke-width="11.8" stroke-linecap="round" fill="none"/>
<path d="M382.9 358.50H489.2" stroke="#008000" stroke-width="11.8" stroke-linecap="round" fill="none"/>
<path d="M436.10 344.40L439.27 354.14L449.51 354.14L441.22 360.16L444.39 369.91L436.10 363.89L427.81 369.91L430.98 360.16L422.69 354.14L432.93 354.14Z" fill="#008000" stroke="#000" stroke-width="4.4" stroke-linejoin="round"/>
<path d="M382.9 422.40H489.2" stroke="#ff8000" stroke-width="11.8" stroke-linecap="round" fill="none"/>
<path d="M436.10 405.40L453.10 422.40L436.10 439.40L419.10 422.40Z" fill="#ff8000" stroke="#000" stroke-width="4.4" stroke-linejoin="round"/>
<path d="M382.9 486.30H489.2" stroke="#9900ff" stroke-width="11.8" stroke-linecap="round" fill="none"/>
<rect x="423.50" y="473.70" width="25.20" height="25.20" fill="#9900ff" stroke="#000" stroke-width="4.4" stroke-linejoin="round"/>
<path d="M382.9 550.30H489.2" stroke="#000000" stroke-width="11.8" stroke-linecap="round" fill="none" stroke-dasharray="29.8 22"/>
</svg>
</body></html>
